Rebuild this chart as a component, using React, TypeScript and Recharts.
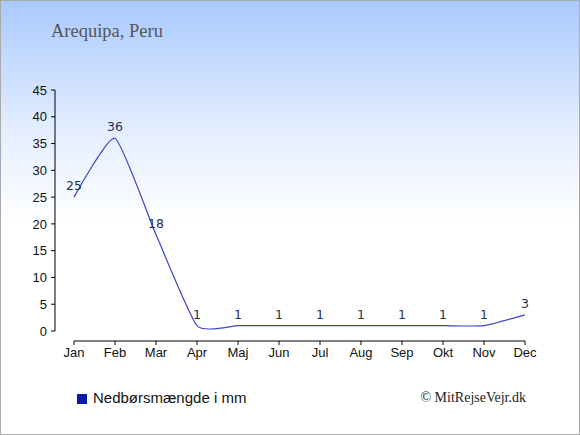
import React from 'react';
import { LineChart, Line, XAxis, YAxis, LabelList } from 'recharts';

const months = ['Jan', 'Feb', 'Mar', 'Apr', 'Maj', 'Jun', 'Jul', 'Aug', 'Sep', 'Okt', 'Nov', 'Dec'];
const precipitation = [25, 36, 18, 1, 1, 1, 1, 1, 1, 1, 1, 3];
const yTicks = [0, 5, 10, 15, 20, 25, 30, 35, 40, 45];
const title = 'Arequipa, Peru';
const legendLabel = 'Nedbørsmængde i mm';
const credit = '© MitRejseVejr.dk';

const data = months.map((m, i) => ({ month: m, value: precipitation[i] }));

const Y_DOMAIN: [number, number] = [0, 45];
const AXIS_STROKE = { stroke: '#000000' };
const TICK_STYLE = { fontFamily: '"Liberation Sans", Arial, sans-serif', fontSize: 13, fill: '#111111' };
const MARGIN = { top: 90, right: 55, left: 15, bottom: 64 };

// Cardinal spline (same as d3 curveCardinal.tension(0.5))
class CardinalCurve {
  _context: any;
  _k: number;
  _line: number = NaN;
  _point = 0;
  _x0 = NaN; _x1 = NaN; _x2 = NaN;
  _y0 = NaN; _y1 = NaN; _y2 = NaN;
  constructor(context: any, tension: number) {
    this._context = context;
    this._k = (1 - tension) / 6;
  }
  areaStart() { this._line = 0; }
  areaEnd() { this._line = NaN; }
  lineStart() {
    this._x0 = this._x1 = this._x2 = this._y0 = this._y1 = this._y2 = NaN;
    this._point = 0;
  }
  _bez(x: number, y: number) {
    this._context.bezierCurveTo(
      this._x1 + this._k * (this._x2 - this._x0),
      this._y1 + this._k * (this._y2 - this._y0),
      this._x2 + this._k * (this._x1 - x),
      this._y2 + this._k * (this._y1 - y),
      this._x2,
      this._y2
    );
  }
  lineEnd() {
    switch (this._point) {
      case 2: this._context.lineTo(this._x2, this._y2); break;
      case 3: this._bez(this._x1, this._y1); break;
    }
    if (this._line || (this._line !== 0 && this._point === 1)) this._context.closePath();
    this._line = 1 - this._line;
  }
  point(x: number, y: number) {
    x = +x; y = +y;
    switch (this._point) {
      case 0:
        this._point = 1;
        if (this._line) this._context.lineTo(x, y); else this._context.moveTo(x, y);
        break;
      case 1:
        this._point = 2; this._x1 = x; this._y1 = y;
        break;
      case 2:
        this._point = 3;
        this._bez(x, y);
        break;
      default:
        this._bez(x, y);
        break;
    }
    this._x0 = this._x1; this._x1 = this._x2; this._x2 = x;
    this._y0 = this._y1; this._y1 = this._y2; this._y2 = y;
  }
}

const cardinalCurve: any = (context: any) => new CardinalCurve(context, 0.5);

export default function App() {
  return (
    <div
      style={{
        position: 'absolute',
        left: 0,
        top: 0,
        width: 580,
        height: 435,
        overflow: 'hidden',
        background: 'linear-gradient(to bottom, #a9c9fe 0%, #e4eeff 30%, #ffffff 52%, #ffffff 100%)',
      }}
    >
      <div
        style={{
          position: 'absolute',
          left: 51,
          top: 21,
          fontFamily: '"Liberation Serif", serif',
          fontSize: 18.5,
          lineHeight: '20px',
          color: '#555555',
          whiteSpace: 'nowrap',
        }}
      >
        {title}
      </div>
      <LineChart
        width={580}
        height={435}
        data={data}
        margin={MARGIN}
        style={{ position: 'absolute', left: 0, top: 0 }}
      >
        <XAxis
          xAxisId="z_main"
          dataKey="month"
          height={30}
          interval={0}
          tickSize={4}
          tickMargin={3}
          axisLine={AXIS_STROKE}
          tickLine={AXIS_STROKE}
          tick={TICK_STYLE}
        />
        <XAxis xAxisId="a_spacer" dataKey="month" height={10} axisLine={false} tickLine={false} tick={false} />
        <YAxis
          yAxisId="z_main"
          width={40}
          domain={Y_DOMAIN}
          ticks={yTicks}
          interval={0}
          tickSize={4}
          tickMargin={4}
          axisLine={AXIS_STROKE}
          tickLine={AXIS_STROKE}
          tick={TICK_STYLE}
        />
        <YAxis yAxisId="a_spacer" width={19} domain={Y_DOMAIN} axisLine={false} tickLine={false} tick={false} />
        <Line
          xAxisId="z_main"
          yAxisId="z_main"
          type={cardinalCurve}
          dataKey="value"
          stroke="#3a44c6"
          strokeWidth={1.2}
          dot={false}
          activeDot={false}
          isAnimationActive={false}
        >
          <LabelList
            dataKey="value"
            position="top"
            offset={7}
            fill="#1f3050"
            fontSize={12.5}
            fontFamily='"DejaVu Sans", Verdana, sans-serif'
          />
        </Line>
      </LineChart>
      <div
        style={{
          position: 'absolute',
          left: 77,
          top: 394,
          width: 10,
          height: 10,
          background: '#0b1aaa',
        }}
      />
      <div
        style={{
          position: 'absolute',
          left: 93,
          top: 389,
          fontFamily: '"Liberation Sans", Arial, sans-serif',
          fontSize: 15,
          lineHeight: '18px',
          color: '#111111',
          whiteSpace: 'nowrap',
        }}
      >
        {legendLabel}
      </div>
      <div
        style={{
          position: 'absolute',
          right: 54,
          top: 389,
          fontFamily: '"Liberation Serif", serif',
          fontSize: 14,
          lineHeight: '18px',
          color: '#222222',
          whiteSpace: 'nowrap',
        }}
      >
        {credit}
      </div>
      <div
        style={{
          position: 'absolute',
          left: 0,
          top: 0,
          width: 580,
          height: 435,
          boxSizing: 'border-box',
          border: '1px solid #aaaaaa',
          pointerEvents: 'none',
        }}
      />
    </div>
  );
}
